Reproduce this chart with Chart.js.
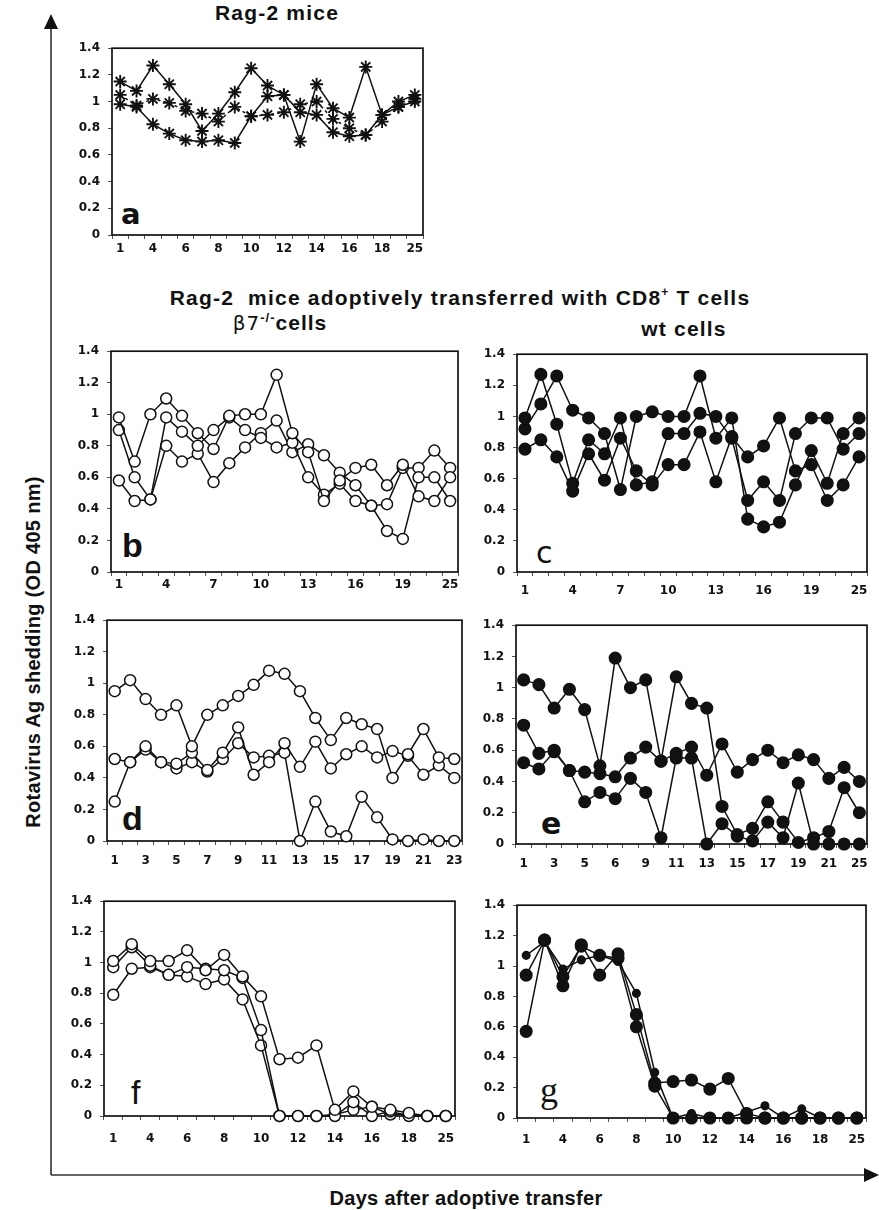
<!DOCTYPE html>
<html>
<head>
<meta charset="utf-8">
<script src="https://cdn.jsdelivr.net/npm/chart.js@4.4.1/dist/chart.umd.min.js"></script>
<style>
  html, body { margin: 0; padding: 0; background: #fff; }
  #page { position: relative; width: 879px; height: 1210px; overflow: hidden; background: #fff; }
  canvas { position: absolute; }
  .t { position: absolute; font-family: "Liberation Sans", Arial, sans-serif; font-weight: bold; color: #111; white-space: nowrap; line-height: 1; }
  .let { position: absolute; font-family: "Liberation Sans", Arial, sans-serif; font-weight: bold; color: #111; font-size: 34px; line-height: 1; }
</style>
</head>
<body>
<div id="page">
  <svg width="879" height="1210" style="position:absolute;left:0;top:0">
    <line x1="51" y1="1175" x2="51" y2="26" stroke="#333" stroke-width="1.6"/>
    <polygon points="51,14 44,29 58,29" fill="#111"/>
    <line x1="51" y1="1175" x2="866" y2="1175" stroke="#333" stroke-width="1.6"/>
    <polygon points="879,1175 864,1168 864,1182" fill="#111"/>
  </svg>

  <div class="t" style="left:277px;top:2px;transform:translateX(-50%);font-size:21px;letter-spacing:1.2px">Rag-2 mice</div>
  <div class="t" style="left:460px;top:286px;transform:translateX(-50%);font-size:21px;letter-spacing:1.2px">Rag-2&nbsp; mice adoptively transferred with CD8<sup style="font-size:12px;vertical-align:9px">+</sup> T cells</div>
  <div class="t" style="left:280px;top:311px;transform:translateX(-50%);font-size:21px;letter-spacing:1px"><span style="font-weight:normal;font-family:'DejaVu Sans',sans-serif;font-size:20px">β7</span><sup style="font-size:13px;vertical-align:8px">-/-</sup>cells</div>
  <div class="t" style="left:684px;top:318px;transform:translateX(-50%);font-size:21px;letter-spacing:1.2px">wt cells</div>

  <div class="t" style="left:33px;top:652px;transform:translate(-50%,-50%) rotate(-90deg);font-size:20px;letter-spacing:0.3px">Rotavirus Ag shedding (OD 405 nm)</div>
  <div class="t" style="left:466px;top:1188px;transform:translateX(-50%);font-size:20px;letter-spacing:0.3px">Days after adoptive transfer</div>

  <div class="let" style="left:121px;top:200px;font-family:'DejaVu Sans',sans-serif;font-size:29px">a</div>
  <div class="let" style="left:122px;top:528px">b</div>
  <div class="let" style="left:536px;top:538px;font-family:'DejaVu Sans',sans-serif;font-weight:normal;font-size:30px">c</div>
  <div class="let" style="left:122px;top:801px">d</div>
  <div class="let" style="left:541px;top:809px;font-family:'DejaVu Sans',sans-serif;font-size:30px">e</div>
  <div class="let" style="left:131px;top:1075px;font-weight:normal">f</div>
  <div class="let" style="left:540px;top:1072px;font-family:'Liberation Serif',serif;font-weight:normal;font-size:36px">g</div>
</div>

<script>
// ---------- categories (days) ----------
const daysA = ['1','3','4','5','6','7','8','9','10','11','12','13','14','15','16','17','18','20','25'];
const daysB = ['1','2','3','4','5','6','7','8','9','10','11','12','13','14','15','16','17','18','19','21','23','25'];
const daysD = ['1','2','3','4','5','6','7','8','9','10','11','12','13','14','15','16','17','18','19','20','21','22','23'];
const daysE = ['1','2','3','4','5','5.5','6','8','9','10','11','12','13','14','15','16','17','18','19','20','21','23','25'];

// ---------- tick labels ----------
const yTickLabels = ['0','0.2','0.4','0.6','0.8','1','1.2','1.4'];
const xTicksA = ['1','4','6','8','10','12','14','16','18','25'];
const xTicksB = ['1','4','7','10','13','16','19','25'];
const xTicksD = ['1','3','5','7','9','11','13','15','17','19','21','23'];
const xTicksE = ['1','3','5','6','9','11','13','15','17','19','21','25'];

// ---------- series values ----------
// a: Rag-2 mice
const a1 = [1.15,1.08,1.27,1.13,0.98,0.78,0.91,1.07,1.25,1.12,1.05,0.70,1.13,0.95,0.88,1.26,0.90,1.00,1.05];
const a2 = [1.05,0.97,1.02,0.99,0.93,0.91,0.85,0.96,0.89,0.90,0.92,0.98,1.00,0.87,0.80,0.75,0.85,0.96,1.02];
const a3 = [0.98,0.96,0.83,0.76,0.71,0.70,0.71,0.69,0.89,1.04,1.05,0.92,0.90,0.77,0.74,0.75,0.90,0.96,1.00];
// b: beta7-/- cells
const b1 = [0.98,0.70,1.00,1.10,0.99,0.88,0.78,0.99,1.00,1.00,1.25,0.88,0.76,0.45,0.58,0.66,0.68,0.55,0.68,0.48,0.45,0.60];
const b2 = [0.90,0.60,0.46,0.98,0.89,0.80,0.90,0.98,0.90,0.85,0.79,0.82,0.60,0.49,0.56,0.45,0.42,0.26,0.21,0.60,0.60,0.45];
const b3 = [0.58,0.45,0.46,0.80,0.70,0.75,0.57,0.69,0.79,0.88,0.96,0.76,0.81,0.74,0.63,0.55,0.42,0.43,0.66,0.66,0.77,0.66];
// c: wt cells
const c1 = [0.99,1.27,0.95,0.57,0.85,0.76,0.99,0.56,0.58,0.89,0.89,1.02,1.00,0.86,0.46,0.58,0.46,0.89,0.99,0.99,0.79,0.89];
const c2 = [0.92,1.08,1.26,1.04,0.99,0.89,0.53,1.00,1.03,1.00,1.00,1.26,0.86,0.99,0.34,0.29,0.32,0.56,0.78,0.57,0.89,0.99];
const c3 = [0.79,0.85,0.74,0.52,0.76,0.59,0.86,0.65,0.56,0.69,0.69,0.90,0.58,0.87,0.74,0.81,0.99,0.65,0.69,0.46,0.56,0.74];
// d: beta7-/- cells
const d1 = [0.95,1.02,0.90,0.80,0.86,0.60,0.80,0.86,0.92,0.99,1.08,1.06,0.95,0.78,0.64,0.78,0.74,0.71,0.40,0.55,0.71,0.53,0.52];
const d2 = [0.52,0.50,0.60,0.50,0.49,0.56,0.45,0.56,0.72,0.42,0.50,0.62,0.47,0.63,0.46,0.55,0.60,0.53,0.57,0.54,0.42,0.48,0.40];
const d3 = [0.25,0.50,0.58,0.50,0.46,0.50,0.44,0.52,0.62,0.53,0.54,0.56,0.00,0.25,0.06,0.03,0.28,0.15,0.01,0.00,0.01,0.00,0.00];
// e: wt cells
const e1 = [1.05,1.02,0.87,0.99,0.86,0.50,1.19,1.00,1.05,0.53,1.07,0.90,0.87,0.24,0.06,0.10,0.27,0.14,0.01,0.04,0.08,0.36,0.20];
const e2 = [0.52,0.48,0.59,0.47,0.46,0.45,0.43,0.55,0.62,0.53,0.58,0.62,0.44,0.64,0.46,0.54,0.60,0.52,0.57,0.54,0.42,0.49,0.40];
const e3 = [0.76,0.58,0.60,0.47,0.27,0.33,0.29,0.42,0.33,0.04,0.55,0.55,0.00,0.13,0.05,0.02,0.14,0.04,0.39,0.00,0.00,0.00,0.00];
// f: beta7-/- cells
const f1 = [1.01,1.12,1.01,1.01,1.08,0.95,1.05,0.91,0.78,0.37,0.38,0.46,0.04,0.16,0.06,0.04,0.02,0.00,0.00];
const f2 = [0.97,1.10,0.98,0.92,0.97,0.96,0.95,0.90,0.56,0.00,0.00,0.00,0.00,0.09,0.00,0.03,0.00,0.00,0.00];
const f3 = [0.79,0.96,0.97,0.92,0.91,0.86,0.89,0.76,0.46,0.00,0.00,0.00,0.01,0.04,0.06,0.01,0.01,0.00,0.00];
// g: wt cells
const g1 = [1.07,1.16,0.98,1.04,1.07,1.03,0.82,0.30,0.00,0.03,0.00,0.00,0.04,0.08,0.00,0.06,0.00,0.00,0.00];
const g2 = [0.94,1.17,0.87,1.14,0.94,1.08,0.68,0.23,0.24,0.25,0.19,0.26,0.03,0.00,0.00,0.00,0.00,0.00,0.00];
const g3 = [0.57,1.17,0.93,1.13,1.07,1.05,0.60,0.21,0.00,0.00,0.00,0.00,0.00,0.00,0.00,0.00,0.00,0.00,0.00];

// ---------- drawing ----------
const YW = 70, PT = 12, PR = 14, XH = 44;
const INK = '#111';
const TICKFONT = 'DejaVu Sans';

const framePlugin = {
  id: 'frame',
  beforeDatasetsDraw(chart) {
    const a = chart.chartArea, ctx = chart.ctx;
    ctx.save();
    ctx.strokeStyle = INK;
    ctx.lineWidth = 1.7;
    ctx.strokeRect(a.left, a.top, a.right - a.left, a.bottom - a.top);
    ctx.restore();
  }
};

function ds(values, style) {
  return Object.assign({
    data: values,
    borderColor: INK,
    borderWidth: 1.5,
    pointBorderColor: INK,
    pointBorderWidth: 1.5,
    pointRadius: 5.5,
    tension: 0,
    clip: false,
    fill: false
  }, style);
}

function panel(box, labels, xTicks, step, datasets, labelPad) {
  const cv = document.createElement('canvas');
  const w = (box.r - box.l) + YW + PR;
  const h = (box.b - box.t) + PT + XH;
  cv.width = w; cv.height = h;
  cv.style.left = (box.l - YW) + 'px';
  cv.style.top = (box.t - PT) + 'px';
  cv.style.width = w + 'px'; cv.style.height = h + 'px';
  document.getElementById('page').appendChild(cv);
  new Chart(cv, {
    type: 'line',
    data: { labels: labels, datasets: datasets },
    plugins: [framePlugin],
    options: {
      responsive: false,
      animation: false,
      devicePixelRatio: 1,
      layout: { padding: { top: PT, right: PR, left: 0, bottom: 0 } },
      plugins: { legend: { display: false }, tooltip: { enabled: false }, title: { display: false } },
      scales: {
        x: {
          type: 'category',
          offset: true,
          border: { display: false },
          grid: { offset: true, drawOnChartArea: false, drawTicks: true, tickLength: 4, color: '#555', lineWidth: 1 },
          ticks: {
            autoSkip: false, maxRotation: 0, minRotation: 0, padding: labelPad,
            color: INK, font: { family: TICKFONT, weight: 'bold', size: 12 },
            callback: (v, i) => (i % step === 0 ? xTicks[i / step] : '')
          },
          afterFit: (s) => { s.height = XH; }
        },
        y: {
          min: 0, max: 1.4,
          border: { display: false },
          grid: { drawOnChartArea: false, drawTicks: true, tickLength: 4, color: '#555', lineWidth: 1 },
          ticks: {
            stepSize: 0.2, padding: 8,
            color: INK, font: { family: TICKFONT, weight: 'bold', size: 12 },
            callback: (v, i) => yTickLabels[i]
          },
          afterFit: (s) => { s.width = YW; }
        }
      }
    }
  });
}

const star = { pointStyle: 'star', pointRadius: 6.5, pointBorderWidth: 1.9, pointBackgroundColor: INK };
const openC = { pointStyle: 'circle', pointBackgroundColor: '#fff' };
const fillC = { pointStyle: 'circle', pointBackgroundColor: INK, pointRadius: 5.8 };

panel({l:112,t:45,r:423,b:235}, daysA, xTicksA, 2, [
  ds(a1, star), ds(a2, Object.assign({borderDash:[3,3]}, star)), ds(a3, star)
], 3);
panel({l:111,t:348,r:458,b:572}, daysB, xTicksB, 3, [ds(b1, openC), ds(b2, openC), ds(b3, openC)], 2);
panel({l:517,t:351,r:867,b:572}, daysB, xTicksB, 3, [ds(c1, fillC), ds(c2, fillC), ds(c3, fillC)], 8);
panel({l:107,t:617,r:462,b:841}, daysD, xTicksD, 2, [ds(d1, openC), ds(d2, openC), ds(d3, openC)], 9);
panel({l:516,t:622,r:867,b:844}, daysE, xTicksE, 2, [ds(e1, fillC), ds(e2, fillC), ds(e3, fillC)], 9);
panel({l:104,t:898,r:455,b:1116}, daysA, xTicksA, 2, [ds(f1, openC), ds(f2, openC), ds(f3, openC)], 12);
panel({l:517,t:902,r:866,b:1118}, daysA, xTicksA, 2, [
  ds(g1, Object.assign({}, fillC, {pointRadius: 3.8})), ds(g2, fillC), ds(g3, fillC)
], 11);
</script>
</body>
</html>
